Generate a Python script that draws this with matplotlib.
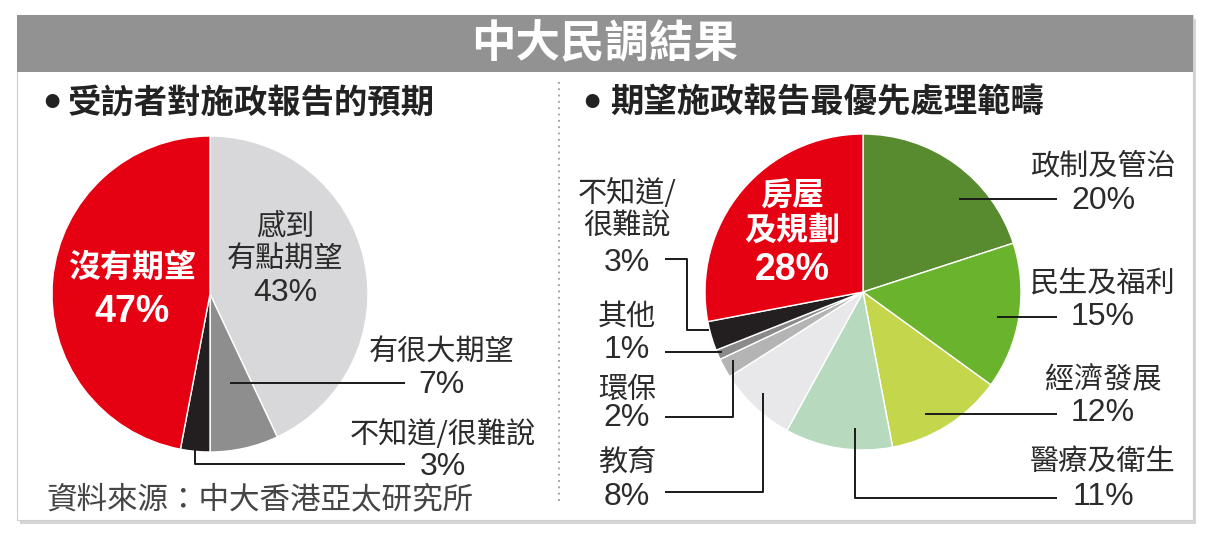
import matplotlib
matplotlib.use('Agg')
import matplotlib.pyplot as plt
from matplotlib.patches import Rectangle

plt.rcParams['font.family'] = ['Noto Sans CJK TC', 'DejaVu Sans']

W, H = 1211, 540

# 텍스트
title = '中大民調結果'
left_title = '受訪者對施政報告的預期'
right_title = '期望施政報告最優先處理範疇'
source = '資料來源：中大香港亞太研究所'

# 왼쪽 파이 데이터 (12시 방향부터 시계방향)
left_labels = ['感到\n有點期望', '有很大期望', '不知道/很難說', '沒有期望']
left_values = [43, 7, 3, 47]
left_colors = ['#d8d8da', '#8e8e8e', '#231f20', '#e50012']

# 오른쪽 파이 데이터
right_labels = ['政制及管治', '民生及福利', '經濟發展', '醫療及衛生', '教育',
                '環保', '其他', '不知道/\n很難說', '房屋\n及規劃']
right_values = [20, 15, 12, 11, 8, 2, 1, 3, 28]
right_colors = ['#588b2f', '#6ab42d', '#c4d64b', '#b7dabf', '#e8e8eb',
                '#b4b4b4', '#8a8a8a', '#231f20', '#e50012']


def Y(y):
    # 위에서부터 잰 픽셀 -> 축 좌표
    return H - y


# 라벨 배치: (x, 이름 y, 퍼센트 y, 글자색, 굵게)
left_layout = [
    (285, 243.5, 293, '#2b2b2b', False),
    (442, 353, 385, '#2b2b2b', False),
    (443, 435, 467, '#2b2b2b', False),
    (132, 268, 312, 'white', True),
]
right_layout = [
    (1103, 167, 201, '#2b2b2b', False),
    (1103, 285, 317, '#2b2b2b', False),
    (1103, 380, 413, '#2b2b2b', False),
    (1103, 463, 497, '#2b2b2b', False),
    (627, 463, 497, '#2b2b2b', False),
    (627, 390, 418, '#2b2b2b', False),
    (627, 317, 350, '#2b2b2b', False),
    (627, 210.5, 263, '#2b2b2b', False),
    (792, 213.5, 270, 'white', True),
]

# 지시선
leaders = [
    [(230, 383), (405, 383)],
    [(195, 450), (195, 464), (405, 464)],
    [(959, 199), (1057, 199)],
    [(997, 317), (1057, 317)],
    [(925, 414), (1057, 414)],
    [(855, 428), (855, 498), (1057, 498)],
    [(665, 492), (763, 492), (763, 393)],
    [(665, 417), (733, 417), (733, 360)],
    [(665, 352), (722, 352)],
    [(665, 259), (687, 259), (687, 330), (709, 330)],
]

fig = plt.figure(figsize=(W / 100, H / 100), dpi=100)
fig.patch.set_facecolor('white')
ax = fig.add_axes([0, 0, 1, 1])

# 패널 배경
ax.add_patch(Rectangle((20, Y(524)), 1176, 505, facecolor='#d6d6d6', edgecolor='none', zorder=0))
ax.add_patch(Rectangle((17, Y(520)), 1176, 505, facecolor='white', edgecolor='#cfcfcf', lw=0.8, zorder=0.5))
ax.add_patch(Rectangle((17, Y(72)), 1176, 57, facecolor='#929292', edgecolor='none', zorder=1))
ax.text(605, Y(44), title, color='white', fontsize=32, fontweight='bold', ha='center', va='center', zorder=2)

# 점선 구분선
ax.plot([559, 559], [Y(82), Y(505)], color='#9a9a9a', lw=1.3, linestyle=(0, (1, 2.5)), zorder=1)

# 소제목
for bx, tx, txt in [(52, 68, left_title), (592, 610, right_title)]:
    ax.text(bx, Y(103), '●', fontsize=11, ha='center', va='center', color='#222222')
    ax.text(tx, Y(103), txt, fontsize=24, fontweight='bold', ha='left', va='center', color='#222222')

# 파이 차트
wp = dict(edgecolor='white', linewidth=1)
ax.pie(left_values, colors=left_colors, startangle=90, counterclock=False,
       center=(210, Y(294)), radius=158, wedgeprops=wp)
ax.pie(right_values, colors=right_colors, startangle=90, counterclock=False,
       center=(863, Y(292)), radius=158, wedgeprops=wp)

# 라벨
for labels, values, layout in [(left_labels, left_values, left_layout),
                               (right_labels, right_values, right_layout)]:
    for name, val, (x, ny, py, col, bold) in zip(labels, values, layout):
        w = 'bold' if bold else 'normal'
        ax.text(x, Y(ny), name, color=col, fontsize=23 if bold else 21, fontweight=w,
                ha='center', va='center', linespacing=1.12, zorder=5)
        ax.text(x, Y(py), f'{val}%', color=col, fontsize=27 if bold else 23, fontweight=w,
                family=['Liberation Sans', 'DejaVu Sans'], ha='center', va='center', zorder=5)

for pts in leaders:
    xs = [p[0] for p in pts]
    ys = [Y(p[1]) for p in pts]
    ax.plot(xs, ys, color='#1a1a1a', lw=1.4, zorder=4, solid_capstyle='butt')

# 출처
ax.text(46, Y(500), source, fontsize=22, color='#454545', ha='left', va='center')

ax.set_xlim(0, W)
ax.set_ylim(0, H)
ax.axis('off')

fig.savefig('out.png', dpi=100, facecolor='white')
